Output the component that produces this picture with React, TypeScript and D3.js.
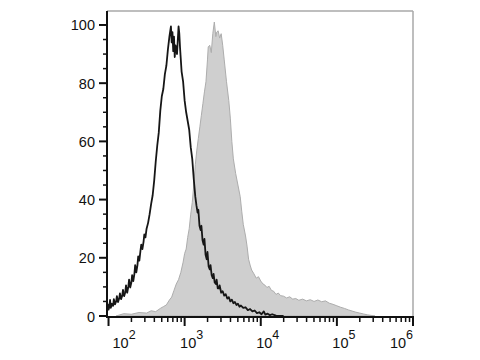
import React from "react";
import * as d3 from "d3";

const controlLog = [1.98, 1.99, 2.0, 2.01, 2.02, 2.03, 2.045, 2.06, 2.07, 2.085, 2.1, 2.11, 2.125, 2.14, 2.15, 2.165, 2.18, 2.19, 2.205, 2.22, 2.23, 2.245, 2.26, 2.27, 2.285, 2.3, 2.31, 2.325, 2.34, 2.35, 2.365, 2.38, 2.39, 2.405, 2.42, 2.43, 2.445, 2.46, 2.47, 2.485, 2.5, 2.52, 2.54, 2.56, 2.58, 2.6, 2.62, 2.64, 2.66, 2.68, 2.7, 2.72, 2.74, 2.76, 2.78, 2.8, 2.82, 2.83, 2.84, 2.85, 2.86, 2.87, 2.88, 2.9, 2.92, 2.93, 2.94, 2.96, 2.98, 3.0, 3.02, 3.04, 3.06, 3.08, 3.1, 3.12, 3.14, 3.155, 3.17, 3.18, 3.195, 3.21, 3.22, 3.235, 3.25, 3.26, 3.275, 3.29, 3.3, 3.315, 3.33, 3.34, 3.355, 3.37, 3.38, 3.395, 3.41, 3.42, 3.435, 3.45, 3.46, 3.48, 3.5, 3.52, 3.54, 3.56, 3.58, 3.6, 3.62, 3.64, 3.66, 3.68, 3.7, 3.72, 3.74, 3.77, 3.8, 3.83, 3.86, 3.89, 3.92, 3.95, 3.98, 4.01, 4.04, 4.06, 4.09, 4.12, 4.15, 4.2, 4.3];
const controlCount = [2.5, 4.0, 2.2, 3.0, 5.5, 2.8, 4.2, 3.5, 5.8, 4.0, 5.0, 6.8, 4.8, 6.0, 7.8, 5.8, 7.0, 9.0, 6.8, 8.2, 10.5, 8.0, 10.0, 12.5, 9.8, 11.5, 14.0, 12.0, 14.5, 17.5, 15.0, 17.5, 20.5, 19.0, 22.5, 24.5, 23.0, 25.5, 28.0, 27.0, 30.0, 32.0, 35.0, 38.5, 41.5, 46.5, 53.0, 58.5, 63.0, 70.5, 75.5, 78.0, 83.0, 86.0, 91.5, 96.0, 99.5, 94.0, 97.5, 91.0, 96.0, 89.0, 93.0, 90.0, 99.5, 97.0, 92.0, 84.0, 80.5, 74.0, 70.0, 67.0, 64.0, 58.0, 54.0, 47.0, 41.0, 38.0, 35.5, 36.5, 31.0, 29.5, 31.0, 26.0, 24.5, 26.5, 21.0, 19.5, 22.0, 17.0, 16.0, 17.5, 14.0, 13.0, 14.5, 11.5, 11.0, 12.5, 9.5, 9.5, 10.5, 8.0, 8.5, 7.0, 7.5, 6.0, 6.5, 5.0, 5.6, 4.4, 4.8, 3.8, 4.2, 3.2, 3.6, 2.8, 3.0, 2.0, 2.4, 1.6, 1.9, 1.0, 1.3, 0.6, 1.6, 0.5, 0.8, 0.3, 0.6, 0.1, 0];

const stainedLog = [2.1, 2.2, 2.3, 2.4, 2.5, 2.56, 2.62, 2.68, 2.72, 2.76, 2.8, 2.83, 2.86, 2.89, 2.92, 2.95, 2.98, 3.0, 3.02, 3.04, 3.06, 3.08, 3.1, 3.12, 3.14, 3.16, 3.18, 3.2, 3.22, 3.24, 3.26, 3.28, 3.3, 3.31, 3.33, 3.35, 3.37, 3.39, 3.41, 3.42, 3.44, 3.46, 3.48, 3.5, 3.52, 3.55, 3.58, 3.6, 3.62, 3.64, 3.67, 3.7, 3.73, 3.75, 3.77, 3.8, 3.82, 3.84, 3.86, 3.88, 3.91, 3.94, 3.97, 4.0, 4.03, 4.06, 4.08, 4.11, 4.14, 4.17, 4.2, 4.23, 4.26, 4.3, 4.34, 4.38, 4.42, 4.46, 4.5, 4.55, 4.6, 4.65, 4.7, 4.75, 4.8, 4.85, 4.9, 4.95, 5.0, 5.05, 5.1, 5.15, 5.2, 5.25, 5.3, 5.35, 5.4, 5.45, 5.5];
const stainedCount = [0, 0.8, 0.6, 1.2, 1.0, 1.8, 1.5, 2.6, 3.2, 3.8, 5.5, 6.5, 8.8, 11.0, 12.5, 15.0, 18.5, 21.5, 23.0, 27.0, 30.0, 35.0, 39.0, 45.0, 52.0, 57.0, 61.0, 65.0, 69.0, 73.0, 77.0, 80.5, 88.0, 92.5, 93.0, 90.5, 97.0, 101.0, 96.0, 97.5, 98.0, 95.5, 97.0, 93.0, 88.0, 80.5, 74.0, 68.0, 60.0, 54.0, 49.0, 45.0, 41.0, 36.0, 31.5, 27.5, 24.0, 19.5, 17.5, 15.8, 14.5, 13.0, 13.5, 12.0, 11.0, 10.5, 9.8, 10.2, 8.8, 8.5, 7.4, 7.9, 7.0, 6.8, 6.2, 6.6, 5.8, 6.0, 5.4, 5.8, 5.2, 5.6, 5.0, 5.5, 4.9, 5.2, 4.4, 4.0, 3.5, 3.0, 2.6, 2.1, 1.7, 1.3, 1.0, 0.7, 0.4, 0.2, 0];

const yTicks = [0, 20, 40, 60, 80, 100];
const xDecades = [2, 3, 4, 5, 6];

export default function App() {
  const left = 107, right = 413, top = 11, bottom = 317;
  const x = d3.scaleLinear().domain([1.98, 6]).range([left, right]);
  const y = d3.scaleLinear().domain([0, 104.8]).range([316, top]);
  const font = "'Liberation Sans', Arial, sans-serif";

  const stained = stainedLog.map((v, i) => [v, stainedCount[i]] as [number, number]);
  const control = controlLog.map((v, i) => [v, controlCount[i]] as [number, number]);

  const area = d3.area<[number, number]>().x(d => x(d[0])).y0(y(0)).y1(d => y(d[1]));
  const line = d3.line<[number, number]>().x(d => x(d[0])).y(d => y(d[1]));

  const yMinor = d3.range(0, 101, 5).filter(v => v % 20 !== 0);
  const xMinor: number[] = [];
  for (let dcd = 2; dcd < 6; dcd++) {
    for (let m = 2; m <= 9; m++) xMinor.push(dcd + Math.log10(m));
  }

  return (
    <svg width={480} height={360} style={{ position: "absolute", left: 0, top: 0, background: "#fff" }}>
      <rect x={0} y={0} width={480} height={360} fill="#fff" />
      <path d={area(stained) || ""} fill="#cfcfcf" stroke="#adadad" strokeWidth={1} />
      <line x1={left} x2={right} y1={top} y2={top} stroke="#a8a8a8" strokeWidth={1.5} />
      <line x1={right} x2={right} y1={top} y2={bottom} stroke="#a8a8a8" strokeWidth={1.5} />
      <path d={line(control) || ""} fill="none" stroke="#161616" strokeWidth={1.8} strokeLinejoin="round" />
      <line x1={left} x2={left} y1={top} y2={bottom + 1} stroke="#111" strokeWidth={2} />
      <line x1={left} x2={right + 1} y1={bottom} y2={bottom} stroke="#111" strokeWidth={2} />
      {yTicks.map(t => (
        <g key={"yt" + t}>
          <line x1={left - 8} x2={left} y1={y(t)} y2={y(t)} stroke="#111" strokeWidth={2} />
          <text x={left - 12} y={y(t) + 5.5} textAnchor="end" fontFamily={font} fontSize={14.5} fill="#111">{t}</text>
        </g>
      ))}
      {yMinor.map(t => (
        <line key={"ym" + t} x1={left - 4} x2={left} y1={y(t)} y2={y(t)} stroke="#111" strokeWidth={1.5} />
      ))}
      {xDecades.map((d, i) => {
        const px = x(d);
        const anchor = i === 0 ? "start" : i === xDecades.length - 1 ? "end" : "middle";
        const lx = i === 0 ? px + 4 : i === xDecades.length - 1 ? px : px + 7;
        return (
          <g key={"xt" + d}>
            <line x1={px} x2={px} y1={bottom} y2={bottom + 9} stroke="#111" strokeWidth={2} />
            <text x={lx} y={348} textAnchor={anchor} fontFamily={font} fontSize={14.5} fill="#111">
              10<tspan dy={-9} fontSize={12.5}>{d}</tspan>
            </text>
          </g>
        );
      })}
      {xMinor.map((v, i) => (
        <line key={"xm" + i} x1={x(v)} x2={x(v)} y1={bottom} y2={bottom + 5} stroke="#111" strokeWidth={1.5} />
      ))}
    </svg>
  );
}
